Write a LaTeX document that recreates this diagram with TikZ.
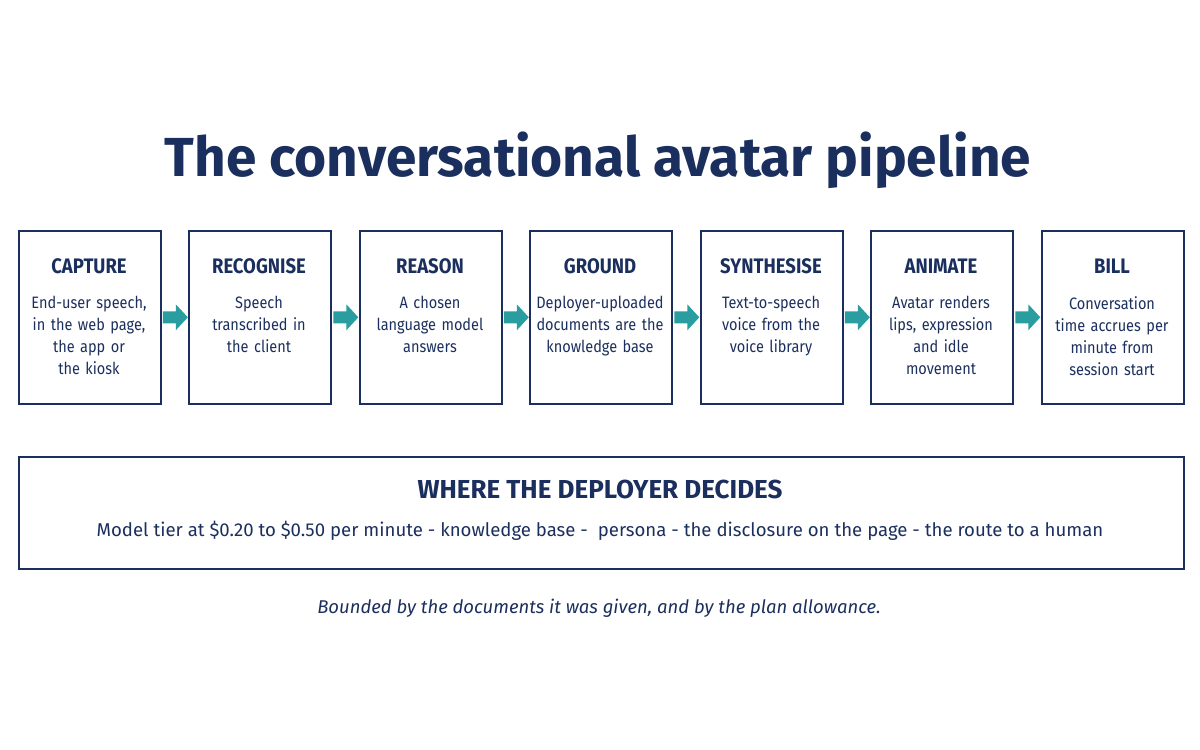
\documentclass[tikz,border=0pt]{standalone}
\usepackage{fontspec}
\setmainfont{Fira Sans}
\newfontfamily\narrowfont[FakeStretch=0.88]{Fira Sans}
\usetikzlibrary{calc}
\definecolor{navy}{HTML}{1B2F5E}
\definecolor{teal}{HTML}{2A9DA0}
\begin{document}
\begin{tikzpicture}[x=1pt,y=-1pt,
 stage/.style={draw=navy,line width=1.6pt,minimum width=142pt,minimum height=173pt,anchor=north west,inner sep=0pt},
 head/.style={font=\narrowfont\fontsize{21}{24}\selectfont\bfseries,text=navy},
 body/.style={font=\narrowfont\fontsize{16.5}{22}\selectfont,text=navy,align=center,text width=140pt}]
\useasboundingbox (0,0) rectangle (1200,750);
\node[font=\fontsize{55}{62}\selectfont\bfseries,text=navy] (title) at (598,160) {The conversational avatar pipeline};
\foreach \i/\x/\h/\t in {1/18/CAPTURE/{End-user speech,\\in the web page,\\the app or\\the kiosk},
 2/188/RECOGNISE/{Speech\\transcribed in\\the client},
 3/359/REASON/{A chosen\\language model\\answers},
 4/529/GROUND/{Deployer-uploaded\\documents are the\\knowledge base},
 5/700/SYNTHESISE/{Text-to-speech\\voice from the\\voice library},
 6/870/ANIMATE/{Avatar renders\\lips, expression\\and idle\\movement},
 7/1041/BILL/{Conversation\\time accrues per\\minute from\\session start}}{
 \node[stage] (b\i) at (\x,230) {};
 \node[head] (h\i) at (\x+71,266) {\h};
 \node[body,anchor=north] (t\i) at (\x+71,293) {\t};
}
\foreach \a/\b in {1/2,2/3,3/4,4/5,5/6,6/7}{
 \coordinate (m\a) at ($(b\a.east)!0.5!(b\b.west)$);
 \fill[teal] ($(m\a)+(-12,-6)$) -- ($(m\a)+(1,-6)$) -- ($(m\a)+(1,-13)$) -- ($(m\a)+(13,0)$)
   -- ($(m\a)+(1,13)$) -- ($(m\a)+(1,6)$) -- ($(m\a)+(-12,6)$) -- cycle;
}
\node[draw=navy,line width=1.6pt,minimum width=1165pt,minimum height=112pt,anchor=north west] (dec) at (18,456) {};
\node[font=\fontsize{26}{30}\selectfont\bfseries,text=navy] (dh) at (600,489) {WHERE THE DEPLOYER DECIDES};
\node[font=\fontsize{18.6}{22}\selectfont,text=navy] (dt) at (600,531) {Model tier at \$0.20 to \$0.50 per minute - knowledge base - \ persona - the disclosure on the page - the route to a human};
\node[font=\fontsize{18.5}{20}\selectfont\itshape,text=navy] (foot) at (599,608) {Bounded by the documents it was given, and by the plan allowance.};
\end{tikzpicture}
\end{document}
